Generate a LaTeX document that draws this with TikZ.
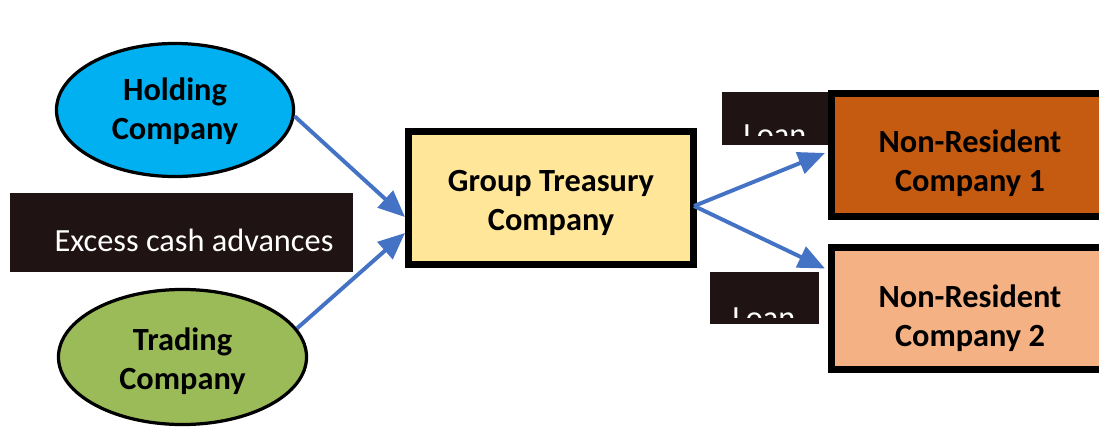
\documentclass[tikz,border=0pt]{standalone}
\usepackage{fontspec}
\setmainfont{Carlito}
\usetikzlibrary{arrows.meta,calc,shapes.geometric}
\definecolor{holdblue}{HTML}{00B0F0}
\definecolor{tradegreen}{HTML}{9BBB59}
\definecolor{treasury}{HTML}{FFE699}
\definecolor{nrdark}{HTML}{C55A11}
\definecolor{nrlight}{HTML}{F4B183}
\definecolor{labelbg}{HTML}{201314}
\definecolor{flowblue}{HTML}{4472C4}

\begin{document}
\begin{tikzpicture}[x=0.025cm, y=-0.025cm,
    company/.style={ellipse, draw=black, line width=2.3pt, inner sep=0pt, align=center,
        font=\fontsize{23}{27.5}\selectfont\bfseries},
    entity/.style={rectangle, draw=black, line width=5pt, inner sep=0pt, align=center,
        font=\fontsize{23}{28}\selectfont\bfseries},
    darkbox/.style={rectangle, fill=labelbg, draw=none, inner sep=0pt},
    darktext/.style={text=white, inner sep=0pt, font=\fontsize{23}{28}\selectfont},
    flow/.style={draw=flowblue, line width=2.8pt, -{Triangle[length=19pt,width=16pt]}}]
    \useasboundingbox (0,0) rectangle (1099,427);
    \clip (0,0) rectangle (1099,427);
    \fill[white] (0,0) rectangle (1099,427);

    \node[company, fill=holdblue, minimum width=5.925cm, minimum height=3.325cm] (holding) at (175,110) {};
    \node[company, draw=none] (holdingtext) at (175,111) {Holding\\Company};
    \node[company, fill=tradegreen, minimum width=6.2cm, minimum height=3.375cm] (trading) at (182.5,357) {};
    \node[company, draw=none] (tradingtext) at (182.5,361) {Trading\\Company};

    \node[darkbox, minimum width=8.575cm, minimum height=1.975cm] (excess) at (181.5,232.5) {};
    \node[darktext] (excesstext) at (194,240) {Excess cash advances};

    \node[entity, fill=treasury, minimum width=7.125cm, minimum height=3.325cm] (treasury) at (551,198) {};
    \node[entity, draw=none] (treasurytext) at (551,203) {Group Treasury\\Company};

    \node[darkbox, minimum width=2.65cm, minimum height=1.325cm] (loanone) at (775,118.5) {};
    \begin{scope}
        \clip (722,92) rectangle (828,135);
        \node[darktext, anchor=base west] (loanonetext) at (743,146) {Loan};
    \end{scope}
    \node[darkbox, minimum width=2.725cm, minimum height=1.3cm] (loantwo) at (764.5,298) {};
    \begin{scope}
        \clip (710,272) rectangle (819,317);
        \node[darktext, anchor=base west] (loantwotext) at (732,328) {Loan};
    \end{scope}

    \node[entity, fill=nrdark, minimum width=6.925cm, minimum height=3.05cm] (nrone) at (970,155) {};
    \node[entity, draw=none] (nronetext) at (970,163) {Non-Resident\\Company 1};
    \node[entity, fill=nrlight, minimum width=6.925cm, minimum height=3.05cm] (nrtwo) at (970,308.5) {};
    \node[entity, draw=none] (nrtwotext) at (970,318) {Non-Resident\\Company 2};

    \draw[flow] (holding.-3) -- ($(treasury.west)+(0,19)$);
    \draw[flow] (trading.14) -- ($(treasury.west)+(0,35)$);
    \draw[flow] ($(treasury.east)+(-3,8)$) -- ($(nrone.west)+(-3,-2)$);
    \draw[flow] ($(treasury.east)+(-3,8)$) -- ($(nrtwo.west)+(-3,-40)$);
\end{tikzpicture}
\end{document}
